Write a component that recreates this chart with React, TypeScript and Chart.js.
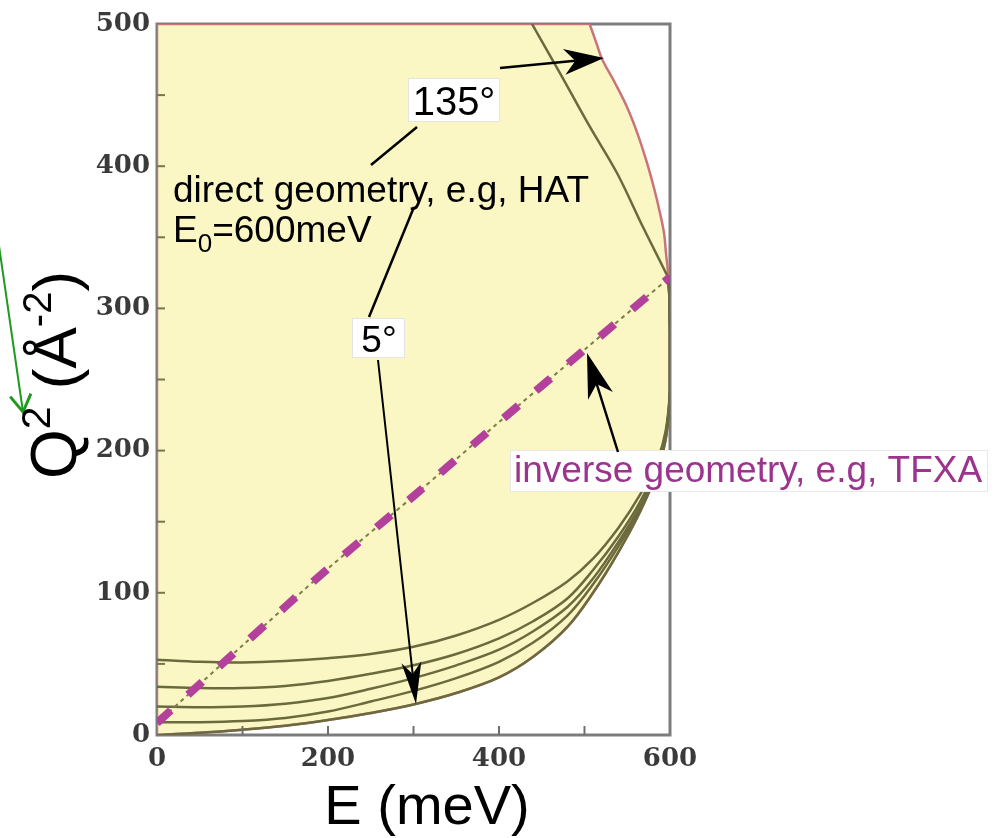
import React, { useEffect, useRef } from 'react';
import { Chart, registerables } from 'chart.js';

Chart.register(...registerables);

// ---- axis ticks ----
const xTickValues = [0, 100, 200, 300, 400, 500, 600];
const xTickLabels = ['0', '200', '400', '600'];
const yTickLabels = ['0', '100', '200', '300', '400', '500'];

// ---- low-angle scattering curves (E in meV, Q^2 in Å^-2) ----
const lowAngleE = [0, 50, 100, 150, 200, 250, 300, 350, 400, 440, 480, 510, 540, 565, 585, 595, 600, 600, 599, 598];
const q2Low1 = [0, 1.5, 3.7, 6.5, 10.5, 15.5, 21.5, 29.5, 40.5, 55, 76, 100, 129, 157, 185, 208, 238, 282, 312, 323];
const q2Low2 = [9, 9, 9.8, 12, 16.5, 23.5, 31, 40, 51.5, 65, 84, 106, 133, 159, 187, 210, 240, 283, 312, 323];
const q2Low3 = [20, 19.5, 20, 22, 26, 32.5, 40, 49, 60, 73, 90, 110, 136, 161, 188, 211, 241, 284, 312, 323];
const q2Low4 = [34, 33, 33, 34.5, 38, 43, 49, 57, 68, 80, 96, 116, 140, 164, 190, 212, 242, 285, 313, 323];
const q2Low5 = [53, 51.5, 51, 52, 54, 57, 62, 70, 81, 93, 108, 124, 146, 169, 193, 214, 244, 286, 313, 323];

// ---- high-angle curves ----
const highAngleE = [506, 513.5, 520.5, 535.7, 549.7, 562.6, 573.1, 581.3, 588.3, 593, 595.3, 597.7];
const q2High135 = [500, 487.3, 475.4, 458.5, 441.6, 421.9, 402.3, 384.7, 367.1, 353, 339, 325];
const midAngleE = [438.6, 471.3, 506.4, 538, 568.4, 591.8, 597.7];
const q2Mid = [500, 465.5, 427.6, 395.2, 357.2, 329.1, 322];

// ---- inverse geometry (TFXA) trajectory ----
const inverseE = [0, 100, 200, 300, 400, 500, 600];
const inverseQ2 = [8.5, 63, 117, 168, 220, 271, 322];

// ---- region corners (top-left and bottom-left of the accessible region) ----
const regionCornerE = [0, 0];
const regionCornerQ2 = [0, 500];

const zip = (xs: number[], ys: number[]) => xs.map((x, i) => ({ x, y: ys[i] }));

const SANS = '"Liberation Sans", Arial, Helvetica, sans-serif';
const OLIVE = '#6b6a3e';
const PINK = '#c9747c';
const MAGENTA = '#b3409a';
const PURPLE_TEXT = '#9a348d';

function drawArrow(ctx: CanvasRenderingContext2D, x1: number, y1: number, x2: number, y2: number,
  len: number, half: number, color: string, width: number) {
  const a = Math.atan2(y2 - y1, x2 - x1);
  const c = Math.cos(a), s = Math.sin(a);
  const bx = x2 - len * c, by = y2 - len * s;
  const nx = x2 - len * 0.72 * c, ny = y2 - len * 0.72 * s;
  ctx.save();
  ctx.strokeStyle = color;
  ctx.lineWidth = width;
  ctx.beginPath();
  ctx.moveTo(x1, y1);
  ctx.lineTo(nx, ny);
  ctx.stroke();
  ctx.fillStyle = color;
  ctx.beginPath();
  ctx.moveTo(x2, y2);
  ctx.lineTo(bx - half * s, by + half * c);
  ctx.lineTo(nx, ny);
  ctx.lineTo(bx + half * s, by - half * c);
  ctx.closePath();
  ctx.fill();
  ctx.restore();
}

function drawRuns(ctx: CanvasRenderingContext2D, parts: [string, number, number][], x: number, y: number, color: string) {
  let cx = x;
  ctx.fillStyle = color;
  ctx.textBaseline = 'alphabetic';
  ctx.textAlign = 'left';
  for (const [t, size, dy] of parts) {
    ctx.font = `${size}px ${SANS}`;
    ctx.fillText(t, cx, y + dy);
    cx += ctx.measureText(t).width;
  }
  return cx - x;
}

function measureRuns(ctx: CanvasRenderingContext2D, parts: [string, number, number][]) {
  let w = 0;
  for (const [t, size] of parts) {
    ctx.font = `${size}px ${SANS}`;
    w += ctx.measureText(t).width;
  }
  return w;
}

const framePlugin = {
  id: 'frame',
  beforeDatasetsDraw(chart: any) {
    const { ctx, chartArea: a } = chart;
    ctx.save();
    ctx.strokeStyle = '#7c7c7c';
    ctx.lineWidth = 3;
    ctx.strokeRect(a.left, a.top, a.right - a.left, a.bottom - a.top);
    ctx.restore();
  },
  afterDatasetsDraw(chart: any) {
    const { ctx, chartArea: a, scales } = chart;
    ctx.save();
    ctx.lineWidth = 2;
    ctx.strokeStyle = '#77764c';
    for (let v = 50; v < 500; v += 50) {
      const y = scales.y.getPixelForValue(v);
      ctx.beginPath();
      ctx.moveTo(a.left, y);
      ctx.lineTo(a.left + 8, y);
      ctx.stroke();
    }
    ctx.strokeStyle = '#6e6e6e';
    for (let v = 100; v < 600; v += 100) {
      const x = scales.x.getPixelForValue(v);
      ctx.beginPath();
      ctx.moveTo(x, a.bottom);
      ctx.lineTo(x, a.bottom - 9);
      ctx.stroke();
    }
    ctx.restore();
  },
};

const annotationPlugin = {
  id: 'annotations',
  afterDraw(chart: any) {
    const ctx: CanvasRenderingContext2D = chart.ctx;
    ctx.save();

    // "135°" label
    ctx.fillStyle = '#ffffff';
    ctx.fillRect(408, 78, 92, 44);
    ctx.strokeStyle = '#e4e4e4';
    ctx.lineWidth = 1;
    ctx.strokeRect(408.5, 78.5, 91, 43);
    ctx.font = `40px ${SANS}`;
    ctx.fillStyle = '#000';
    ctx.textAlign = 'center';
    ctx.textBaseline = 'alphabetic';
    ctx.fillText('135°', 454, 115);

    ctx.strokeStyle = '#000';
    ctx.lineWidth = 2.5;
    ctx.beginPath();
    ctx.moveTo(417, 127);
    ctx.lineTo(371, 165);
    ctx.stroke();
    drawArrow(ctx, 500, 68, 604, 58, 40, 13, '#000', 2.5);

    // direct geometry text
    drawRuns(ctx, [['direct geometry, e.g, HAT', 37, 0]], 173, 202, '#000');
    drawRuns(ctx, [['E', 37, 0], ['0', 26, 10], ['=600meV', 37, 0]], 173, 242, '#000');

    ctx.strokeStyle = '#000';
    ctx.lineWidth = 2.5;
    ctx.beginPath();
    ctx.moveTo(414, 207);
    ctx.lineTo(369, 317);
    ctx.stroke();

    // "5°" label
    ctx.fillStyle = '#ffffff';
    ctx.fillRect(352, 318, 53, 40);
    ctx.strokeStyle = '#e4e4e4';
    ctx.lineWidth = 1;
    ctx.strokeRect(352.5, 318.5, 52, 39);
    ctx.font = `37px ${SANS}`;
    ctx.fillStyle = '#000';
    ctx.textAlign = 'center';
    ctx.fillText('5°', 379, 352);
    drawArrow(ctx, 378, 360, 416, 704, 42, 10, '#000', 2);

    // inverse geometry label
    ctx.fillStyle = '#ffffff';
    ctx.fillRect(510, 450, 478, 42);
    ctx.strokeStyle = '#e8e8e8';
    ctx.lineWidth = 1;
    ctx.strokeRect(510.5, 450.5, 477, 41);
    drawRuns(ctx, [['inverse geometry, e.g, TFXA', 37, 0]], 514, 482, PURPLE_TEXT);
    drawArrow(ctx, 618, 452, 587, 353, 45, 13, '#000', 2.5);

    // green pointer arrow
    ctx.strokeStyle = '#1f9a1f';
    ctx.lineWidth = 2;
    ctx.beginPath();
    ctx.moveTo(-3, 232);
    ctx.lineTo(23, 412);
    ctx.stroke();
    {
      const a = Math.atan2(412 - 232, 23 + 3);
      const L = 20, sp = 0.55;
      ctx.beginPath();
      ctx.moveTo(23 - L * Math.cos(a - sp), 412 - L * Math.sin(a - sp));
      ctx.lineTo(23, 412);
      ctx.lineTo(23 - L * Math.cos(a + sp), 412 - L * Math.sin(a + sp));
      ctx.lineWidth = 3;
      ctx.stroke();
    }

    // axis titles
    const xParts: [string, number, number][] = [['E (meV)', 56, 0]];
    const xw = measureRuns(ctx, xParts);
    drawRuns(ctx, xParts, 427 - xw / 2, 824, '#000');

    const yParts: [string, number, number][] = [
      ['Q', 64, 0], ['2', 41, -26], [' (Å', 62, 0], ['-2', 40, -25], [')', 62, 0],
    ];
    ctx.save();
    ctx.translate(76, 479);
    ctx.rotate(-Math.PI / 2);
    drawRuns(ctx, yParts, 0, 0, '#000');
    ctx.restore();

    ctx.restore();
  },
};

export default function App() {
  const ref = useRef<HTMLCanvasElement | null>(null);

  useEffect(() => {
    if (!ref.current) return;
    // closed outline: 135° edge, then the 5° edge back to the origin, then up the axis and along the top
    const regionPoints = [
      ...zip(highAngleE, q2High135),
      ...zip(lowAngleE, q2Low1).reverse().slice(1),
      ...zip(regionCornerE, regionCornerQ2).slice(1),
      { x: highAngleE[0], y: q2High135[0] },
    ];
    const curve = (xs: number[], ys: number[], order: number) => ({
      data: zip(xs, ys),
      borderColor: OLIVE,
      borderWidth: 2.5,
      pointRadius: 0,
      fill: false,
      tension: 0.35,
      order,
    });
    const chart = new Chart(ref.current, {
      type: 'line',
      data: {
        datasets: [
          {
            data: regionPoints,
            borderColor: PINK,
            borderWidth: 2.5,
            backgroundColor: '#faf7c4',
            fill: 'shape',
            pointRadius: 0,
            tension: 0.35,
            order: 10,
          } as any,
          curve(lowAngleE, q2Low1, 5),
          curve(lowAngleE, q2Low2, 5),
          curve(lowAngleE, q2Low3, 5),
          curve(lowAngleE, q2Low4, 5),
          curve(lowAngleE, q2Low5, 5),
          curve(midAngleE, q2Mid, 5),
          {
            data: zip(inverseE, inverseQ2),
            borderColor: '#7f7d48',
            borderWidth: 2,
            borderDash: [4, 4],
            pointRadius: 0,
            fill: false,
            tension: 0.3,
            order: 3,
          },
          {
            data: zip(inverseE, inverseQ2),
            borderColor: MAGENTA,
            borderWidth: 8,
            borderDash: [19, 23],
            borderCapStyle: 'butt',
            pointRadius: 0,
            fill: false,
            tension: 0.3,
            order: 1,
          },
        ],
      },
      options: {
        responsive: false,
        animation: false,
        devicePixelRatio: 1,
        layout: { padding: { left: 0, right: 336, top: 24, bottom: 0 } },
        plugins: { legend: { display: false }, tooltip: { enabled: false } },
        scales: {
          x: {
            type: 'linear',
            min: 0,
            max: 600,
            grid: { display: false, drawTicks: false },
            border: { display: false },
            afterBuildTicks: (s: any) => { s.ticks = xTickValues.map((v) => ({ value: v })); },
            ticks: {
              autoSkip: false,
              maxRotation: 0,
              padding: 9,
              color: '#3a3a3a',
              font: { family: '"DejaVu Serif", serif', size: 26, weight: 'bold' },
              callback: (v: any) => (xTickLabels.includes(String(v)) ? String(v) : ''),
            },
            afterFit: (s: any) => { s.height = 103; },
          },
          y: {
            type: 'linear',
            min: 0,
            max: 500,
            grid: { display: false, drawTicks: false },
            border: { display: false },
            ticks: {
              stepSize: 50,
              autoSkip: false,
              padding: 7,
              color: '#3a3a3a',
              font: { family: '"DejaVu Serif", serif', size: 26, weight: 'bold' },
              callback: (v: any) => (yTickLabels.includes(String(v)) ? String(v) : ''),
            },
            afterFit: (s: any) => { s.width = 157; },
          },
        },
      },
      plugins: [framePlugin, annotationPlugin],
    } as any);
    return () => chart.destroy();
  }, []);

  return (
    <div style={{ position: 'absolute', left: 0, top: 0, width: 1006, height: 838, background: '#fff' }}>
      <canvas ref={ref} width={1006} height={838} style={{ width: 1006, height: 838 }} />
    </div>
  );
}
